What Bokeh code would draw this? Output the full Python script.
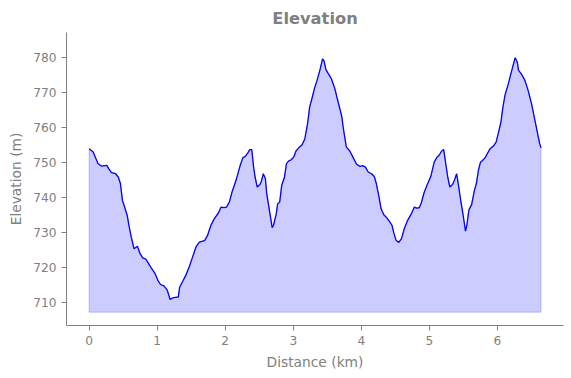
from bokeh.plotting import figure
from bokeh.models import FixedTicker, Range1d
from bokeh.embed import file_html
from bokeh.resources import INLINE

distance_km = [
    0.00, 0.06, 0.13, 0.18, 0.26, 0.29, 0.33, 0.39, 0.43, 0.46, 0.49, 0.53, 0.56, 0.59, 0.62,
    0.66, 0.68, 0.71, 0.75, 0.79, 0.83, 0.87, 0.92, 0.97, 1.01, 1.05, 1.10, 1.15, 1.19, 1.23,
    1.29, 1.31, 1.33, 1.37, 1.42, 1.47, 1.52, 1.57, 1.62, 1.67, 1.70, 1.74, 1.79, 1.84, 1.90,
    1.94, 1.98, 2.02, 2.06, 2.10, 2.16, 2.22, 2.26, 2.29, 2.33, 2.36, 2.39, 2.42, 2.44, 2.47,
    2.51, 2.53, 2.56, 2.59, 2.61, 2.65, 2.69, 2.71, 2.75, 2.77, 2.80, 2.83, 2.87, 2.90, 2.93,
    2.97, 3.01, 3.04, 3.08, 3.13, 3.17, 3.21, 3.24, 3.28, 3.31, 3.35, 3.39, 3.43, 3.45, 3.48,
    3.51, 3.56, 3.61, 3.66, 3.71, 3.74, 3.78, 3.83, 3.88, 3.93, 3.98, 4.02, 4.06, 4.10, 4.15,
    4.19, 4.22, 4.26, 4.29, 4.33, 4.38, 4.42, 4.45, 4.48, 4.51, 4.55, 4.59, 4.63, 4.68, 4.73,
    4.78, 4.81, 4.85, 4.88, 4.92, 4.97, 5.02, 5.07, 5.11, 5.14, 5.18, 5.21, 5.24, 5.27, 5.30,
    5.34, 5.37, 5.40, 5.42, 5.46, 5.50, 5.53, 5.55, 5.58, 5.62, 5.66, 5.69, 5.72, 5.75, 5.78,
    5.82, 5.85, 5.89, 5.94, 5.98, 6.01, 6.05, 6.08, 6.11, 6.16, 6.21, 6.26, 6.29, 6.31, 6.35,
    6.40, 6.45, 6.50, 6.54, 6.58, 6.62, 6.64,
]
elevation_m = [
    753.9, 753.0, 749.7, 749.0, 749.2, 748.2, 747.1, 746.8, 745.8, 744.0, 739.2, 736.8, 734.9, 731.6, 728.7,
    725.4, 725.7, 726.1, 724.0, 722.7, 722.5, 721.3, 719.7, 718.3, 716.4, 715.2, 714.8, 713.5, 710.9, 711.4,
    711.6, 711.6, 714.4, 715.9, 717.8, 720.2, 723.0, 725.9, 727.3, 727.6, 727.8, 729.2, 732.1, 734.0, 735.6,
    737.3, 737.1, 737.3, 738.7, 741.6, 745.0, 749.2, 751.4, 751.7, 752.7, 753.7, 753.7, 748.2, 745.8, 743.0,
    743.7, 744.6, 746.8, 745.4, 741.1, 736.3, 731.4, 732.1, 735.4, 738.2, 738.7, 743.5, 745.8, 749.7, 750.4,
    750.8, 751.7, 753.3, 754.2, 755.1, 756.8, 761.1, 765.8, 768.7, 771.1, 773.5, 776.3, 779.6, 779.1, 776.5,
    775.5, 773.9, 771.1, 767.2, 763.4, 759.2, 754.4, 753.3, 751.4, 749.5, 748.9, 749.1, 748.7, 747.3, 746.8,
    746.0, 744.0, 740.1, 736.8, 735.1, 734.1, 733.0, 732.1, 729.7, 727.8, 727.2, 728.3, 731.1, 733.5, 735.2,
    737.3, 737.0, 737.1, 738.4, 741.3, 743.8, 746.0, 750.1, 751.5, 752.0, 753.3, 753.7, 749.7, 745.8, 743.0,
    743.7, 745.1, 746.8, 744.4, 739.2, 734.4, 730.4, 732.1, 736.5, 738.0, 742.0, 744.0, 747.8, 750.1, 750.6,
    751.4, 752.5, 753.9, 754.7, 755.8, 758.2, 761.5, 765.8, 769.2, 772.5, 776.3, 779.9, 778.7, 776.3, 775.3,
    773.6, 770.6, 766.8, 763.0, 759.2, 755.4, 754.2,
]
fill_base_m = 707.3
x_ticks = [0, 1, 2, 3, 4, 5, 6]
y_ticks = [710, 720, 730, 740, 750, 760, 770, 780]

GREY = "#808080"
FONT = "DejaVu Sans"

p = figure(width=571, height=378, output_backend="svg", toolbar_location=None,
           x_range=Range1d(-0.332, 6.97), y_range=Range1d(703.5, 787.1),
           min_border_left=66, min_border_right=8, min_border_bottom=53, min_border_top=32)

p.title.text = "Elevation"
p.title.align = "center"
p.title.text_font = FONT
p.title.text_font_size = "16.3px"
p.title.text_font_style = "bold"
p.title.text_color = GREY

p.outline_line_color = None
p.xgrid.visible = False
p.ygrid.visible = False
p.background_fill_color = "white"
p.border_fill_color = "white"

# filled area under profile
px = list(distance_km) + [distance_km[-1], distance_km[0]]
py = list(elevation_m) + [fill_base_m, fill_base_m]
p.patch(px, py, fill_color="blue", fill_alpha=0.2, line_color="blue", line_alpha=0.2, line_width=1)
p.line(distance_km, elevation_m, line_color="blue", line_width=1.3)

for ax, ticks, label in ((p.xaxis[0], x_ticks, "Distance (km)"), (p.yaxis[0], y_ticks, "Elevation (m)")):
    ax.ticker = FixedTicker(ticks=ticks)
    ax.minor_tick_line_color = None
    ax.major_tick_in = 0
    ax.major_tick_out = 5
    ax.axis_line_color = GREY
    ax.major_tick_line_color = GREY
    ax.major_label_text_color = GREY
    ax.major_label_text_font = FONT
    ax.major_label_text_font_size = "12.2px"
    ax.axis_label = label
    ax.axis_label_text_color = GREY
    ax.axis_label_text_font = FONT
    ax.axis_label_text_font_size = "13.8px"
    ax.axis_label_text_font_style = "normal"
    ax.major_label_standoff = 5
    ax.axis_label_standoff = 6

open("out.html", "w").write(file_html(p, INLINE))
